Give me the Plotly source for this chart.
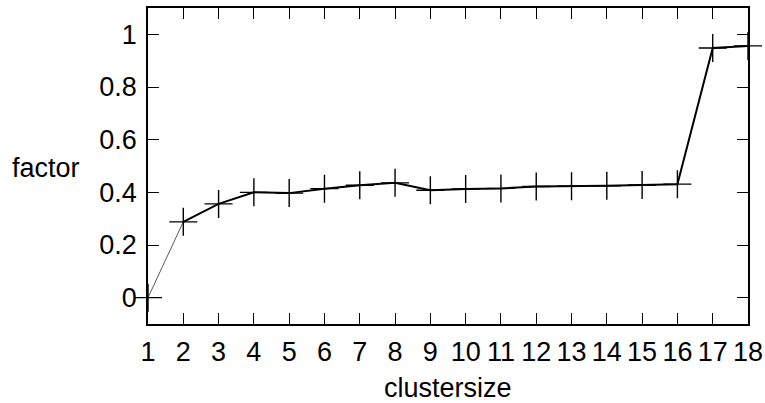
import plotly.graph_objects as go

clustersize = list(range(1, 19))
factor = [0.0, 0.288, 0.356, 0.400, 0.397, 0.414, 0.427, 0.436, 0.408,
          0.413, 0.415, 0.422, 0.423, 0.425, 0.428, 0.431, 0.948, 0.956]
y_ticks = [0, 0.2, 0.4, 0.6, 0.8, 1]
y_ticklabels = ["0", "0.2", "0.4", "0.6", "0.8", "1"]

FONT = dict(family='Liberation Sans, Arial', size=27, color='black')

fig = go.Figure()

# first segment drawn thin, rest thicker
fig.add_trace(go.Scatter(x=clustersize[:2], y=factor[:2], mode='lines',
                         line=dict(color='rgb(90,90,90)', width=1),
                         showlegend=False, cliponaxis=False))
fig.add_trace(go.Scatter(x=clustersize[1:], y=factor[1:], mode='lines',
                         line=dict(color='black', width=2),
                         showlegend=False, cliponaxis=False))
fig.add_trace(go.Scatter(x=clustersize, y=factor, mode='markers',
                         marker=dict(symbol='cross-thin-open', size=20, color='black',
                                     line=dict(color='black', width=1.4)),
                         showlegend=False, cliponaxis=False))

axis_common = dict(
    showline=True,
    linecolor='black',
    linewidth=1.5,
    mirror='ticks',
    ticks='inside',
    ticklen=11,
    tickwidth=1,
    tickcolor='black',
    showgrid=False,
    zeroline=False,
    automargin=False,
    tickfont=FONT,
)

fig.update_xaxes(range=[1, 18], tickmode='array', tickvals=clustersize,
                 ticktext=[str(c) for c in clustersize],
                 ticklabelstandoff=3, **axis_common)
fig.update_yaxes(range=[-0.1, 1.1], tickmode='array', tickvals=y_ticks,
                 ticktext=y_ticklabels, ticklabelstandoff=4, **axis_common)

fig.update_layout(
    width=765, height=403,
    margin=dict(l=148, r=17, t=8, b=79),
    paper_bgcolor='white',
    plot_bgcolor='white',
    annotations=[
        dict(xref='paper', yref='paper', x=-0.23, y=0.494,
             xanchor='left', yanchor='middle', text='factor', showarrow=False,
             font=FONT),
        dict(xref='paper', yref='paper', x=0.5, y=-0.203,
             xanchor='center', yanchor='middle', text='clustersize', showarrow=False,
             font=FONT),
    ],
)

# drop the default page margin so the figure fills the window exactly
fig.write_html("out.html", config={'displayModeBar': False},
               post_script="document.body.style.margin='0';document.body.style.overflow='hidden';")
